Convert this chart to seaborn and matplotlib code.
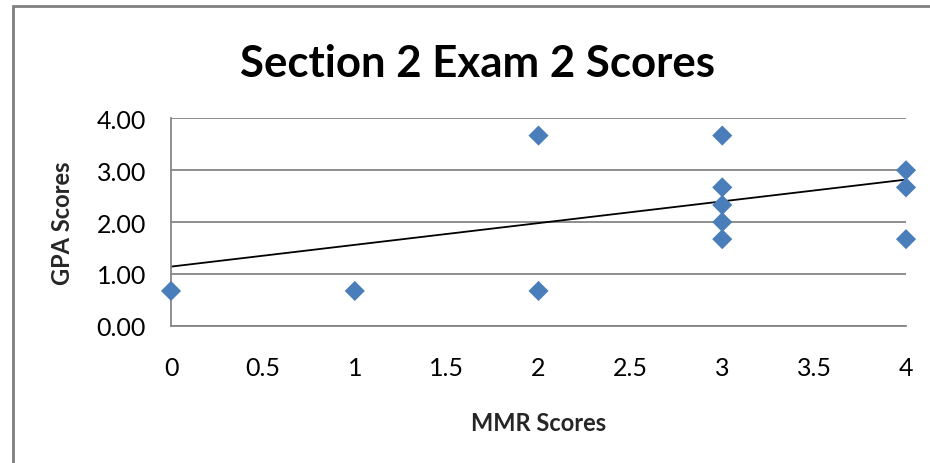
import numpy as np
import pandas as pd
import matplotlib
matplotlib.use('Agg')
import matplotlib.pyplot as plt
import seaborn as sns
from matplotlib.patches import Rectangle

# Values
mmr_scores = [0, 1, 2, 2, 3, 3, 3, 3, 3, 4, 4, 4]
gpa_scores = [0.67, 0.67, 3.67, 0.67, 3.67, 2.67, 2.33, 2.00, 1.67, 3.00, 2.67, 1.67]

# Excel linear trendline as drawn in the picture
trend_intercept = 1.14
trend_slope = 0.42

x_ticks = [0, 0.5, 1, 1.5, 2, 2.5, 3, 3.5, 4]
y_ticks = [0.0, 1.0, 2.0, 3.0, 4.0]

df = pd.DataFrame({'MMR Scores': mmr_scores, 'GPA Scores': gpa_scores})
trend = pd.DataFrame({'x': [0, 4]})
trend['y'] = trend_intercept + trend_slope * trend['x']

sns.set_style('white')
plt.rcParams['font.family'] = ['Lato', 'DejaVu Sans']

fig = plt.figure(figsize=(9.3, 4.64), dpi=100)
ax = fig.add_axes([0.1839, 0.296, 0.7903, 0.4465])

grid_col = '#868686'
for yv in y_ticks:
    ax.axhline(yv, color=grid_col, lw=1.3, zorder=0)

sns.lineplot(data=trend, x='x', y='y', color='black', lw=1.3, ax=ax, zorder=2)
sns.scatterplot(data=df, x='MMR Scores', y='GPA Scores', marker='D', s=105,
                color='#4A7EBB', edgecolor='none', ax=ax, zorder=3, clip_on=False)

ax.set_xlim(0, 4)
ax.set_ylim(0, 4)
ax.set_xticks(x_ticks)
ax.set_xticklabels([f'{v:g}' for v in x_ticks])
ax.set_yticks(y_ticks)
ax.set_yticklabels([f'{v:.2f}' for v in y_ticks])

for side in ['top', 'right']:
    ax.spines[side].set_visible(False)
for side in ['left', 'bottom']:
    ax.spines[side].set_color(grid_col)
    ax.spines[side].set_linewidth(1.3)

ax.tick_params(axis='both', which='both', direction='out', length=6, width=1.3,
               color=grid_col, labelsize=18, labelcolor='black')
ax.tick_params(axis='x', pad=16)
ax.tick_params(axis='y', pad=12)

ax.set_xlabel('MMR Scores', fontsize=17, fontweight='bold', labelpad=23)
ax.set_ylabel('GPA Scores', fontsize=17, fontweight='bold', labelpad=16)

fig.text(0.513, 0.862, 'Section 2 Exam 2 Scores', ha='center', va='center',
         fontsize=31.5, fontweight='bold', color='black')

# chart area border
fig.add_artist(Rectangle((13 / 930, -0.1), 1.2, 1 - 7 / 464 + 0.1,
                         transform=fig.transFigure, fill=False,
                         edgecolor='#7f7f7f', lw=2))

fig.savefig('out.png', dpi=100)
